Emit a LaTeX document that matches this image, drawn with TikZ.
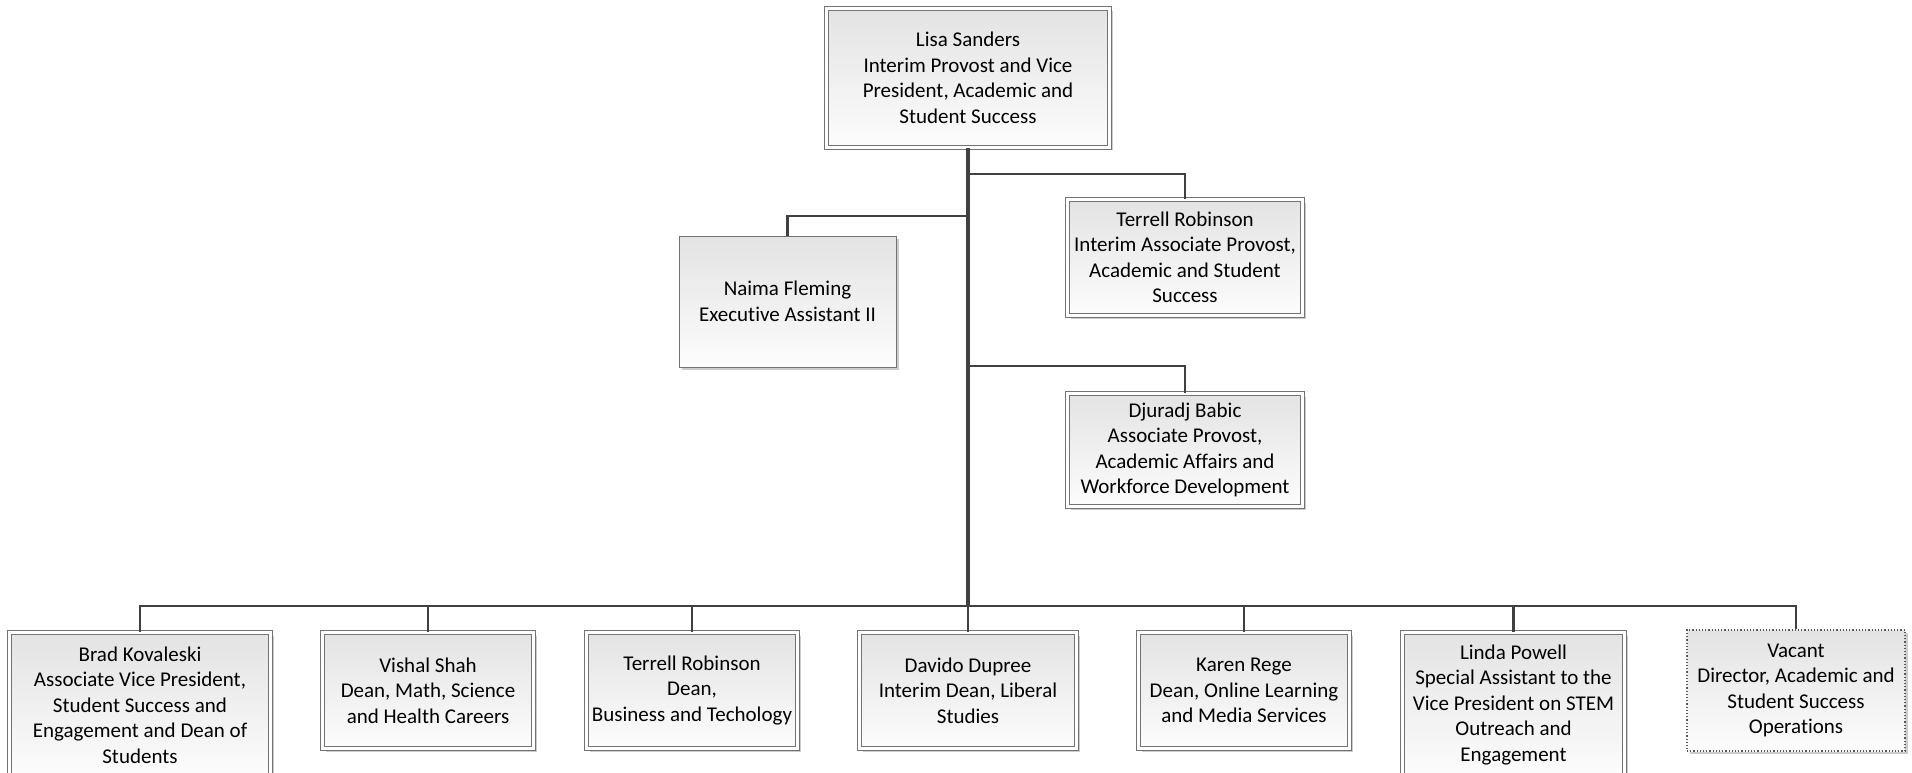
\documentclass[tikz,border=0pt]{standalone}
\usepackage{fontspec}
\setmainfont{Carlito}[Ligatures=NoCommon]
\usetikzlibrary{shadows}
\tikzstyle{everybox}=[align=center,inner sep=0pt,font=\fontsize{21}{25.5}\selectfont,top color=black!11,bottom color=black!1,drop shadow={shadow xshift=3pt,shadow yshift=-3pt,fill=black!20,opacity=1}]
\tikzstyle{unit}=[everybox,draw=black!55,line width=0.9pt,double,double distance=3.6pt]
\tikzstyle{single}=[everybox,draw=black!55,line width=1pt]
\tikzstyle{vacant}=[everybox,draw=black!65,line width=1.2pt,dotted]
\tikzstyle{link}=[draw=black!75,line width=2.8pt]

\begin{document}
\begin{tikzpicture}[x=1pt,y=-1pt]
    \useasboundingbox (0,0) rectangle (1912,773);
    % head
    \node[unit,minimum width=283pt,minimum height=139pt] (lisa) at (968,78)
      {Lisa Sanders\\Interim Provost and Vice\\President, Academic and\\Student Success};
    % staff
    \node[single,minimum width=217pt,minimum height=131pt] (naima) at (787.5,301.5)
      {Naima Fleming\\Executive Assistant II};
    \node[unit,minimum width=235pt,minimum height=116pt] (terrell) at (1185,257.5)
      {Terrell Robinson\\Interim Associate Provost,\\Academic and Student\\Success};
    \node[unit,minimum width=235pt,minimum height=113pt] (djuradj) at (1185,450)
      {Djuradj Babic\\Associate Provost,\\Academic Affairs and\\Workforce Development};
    % reports
    \node[unit,minimum width=261pt,minimum height=145pt] (brad) at (140,705)
      {Brad Kovaleski\\Associate Vice President,\\Student Success and\\Engagement and Dean of\\Students};
    \node[unit,minimum width=211pt,minimum height=116pt] (vishal) at (428,690.5)
      {Vishal Shah\\Dean, Math, Science\\and Health Careers};
    \node[unit,minimum width=211pt,minimum height=116pt] (terrelld) at (692,690.5)
      {Terrell Robinson\\Dean,\\Business and Techology};
    \node[unit,minimum width=217pt,minimum height=116pt] (davido) at (968,690.5)
      {Davido Dupree\\Interim Dean, Liberal\\Studies};
    \node[unit,minimum width=211pt,minimum height=116pt] (karen) at (1244,690.5)
      {Karen Rege\\Dean, Online Learning\\and Media Services};
    \node[unit,minimum width=222pt,minimum height=145pt] (linda) at (1513.5,705)
      {Linda Powell\\Special Assistant to the\\Vice President on STEM\\Outreach and\\Engagement};
    \node[vacant,minimum width=218pt,minimum height=121pt] (vacant) at (1796,690.5)
      {Vacant\\Director, Academic and\\Student Success\\Operations};
    % connectors
    \coordinate (tn) at (968,174);
    \coordinate (nn) at (968,216);
    \coordinate (dn) at (968,366);
    \coordinate (bus) at (968,606);
    \draw[link,line width=3.4pt] (lisa.south) -- (bus);
    \draw[link] (tn) -| (terrell.north);
    \draw[link] (nn) -| (naima.north);
    \draw[link] (dn) -| (djuradj.north);
    \foreach \n in {brad,vishal,terrelld,davido,karen,linda,vacant}
      \draw[link] (bus) -| (\n.north);
  \end{tikzpicture}
\end{document}
